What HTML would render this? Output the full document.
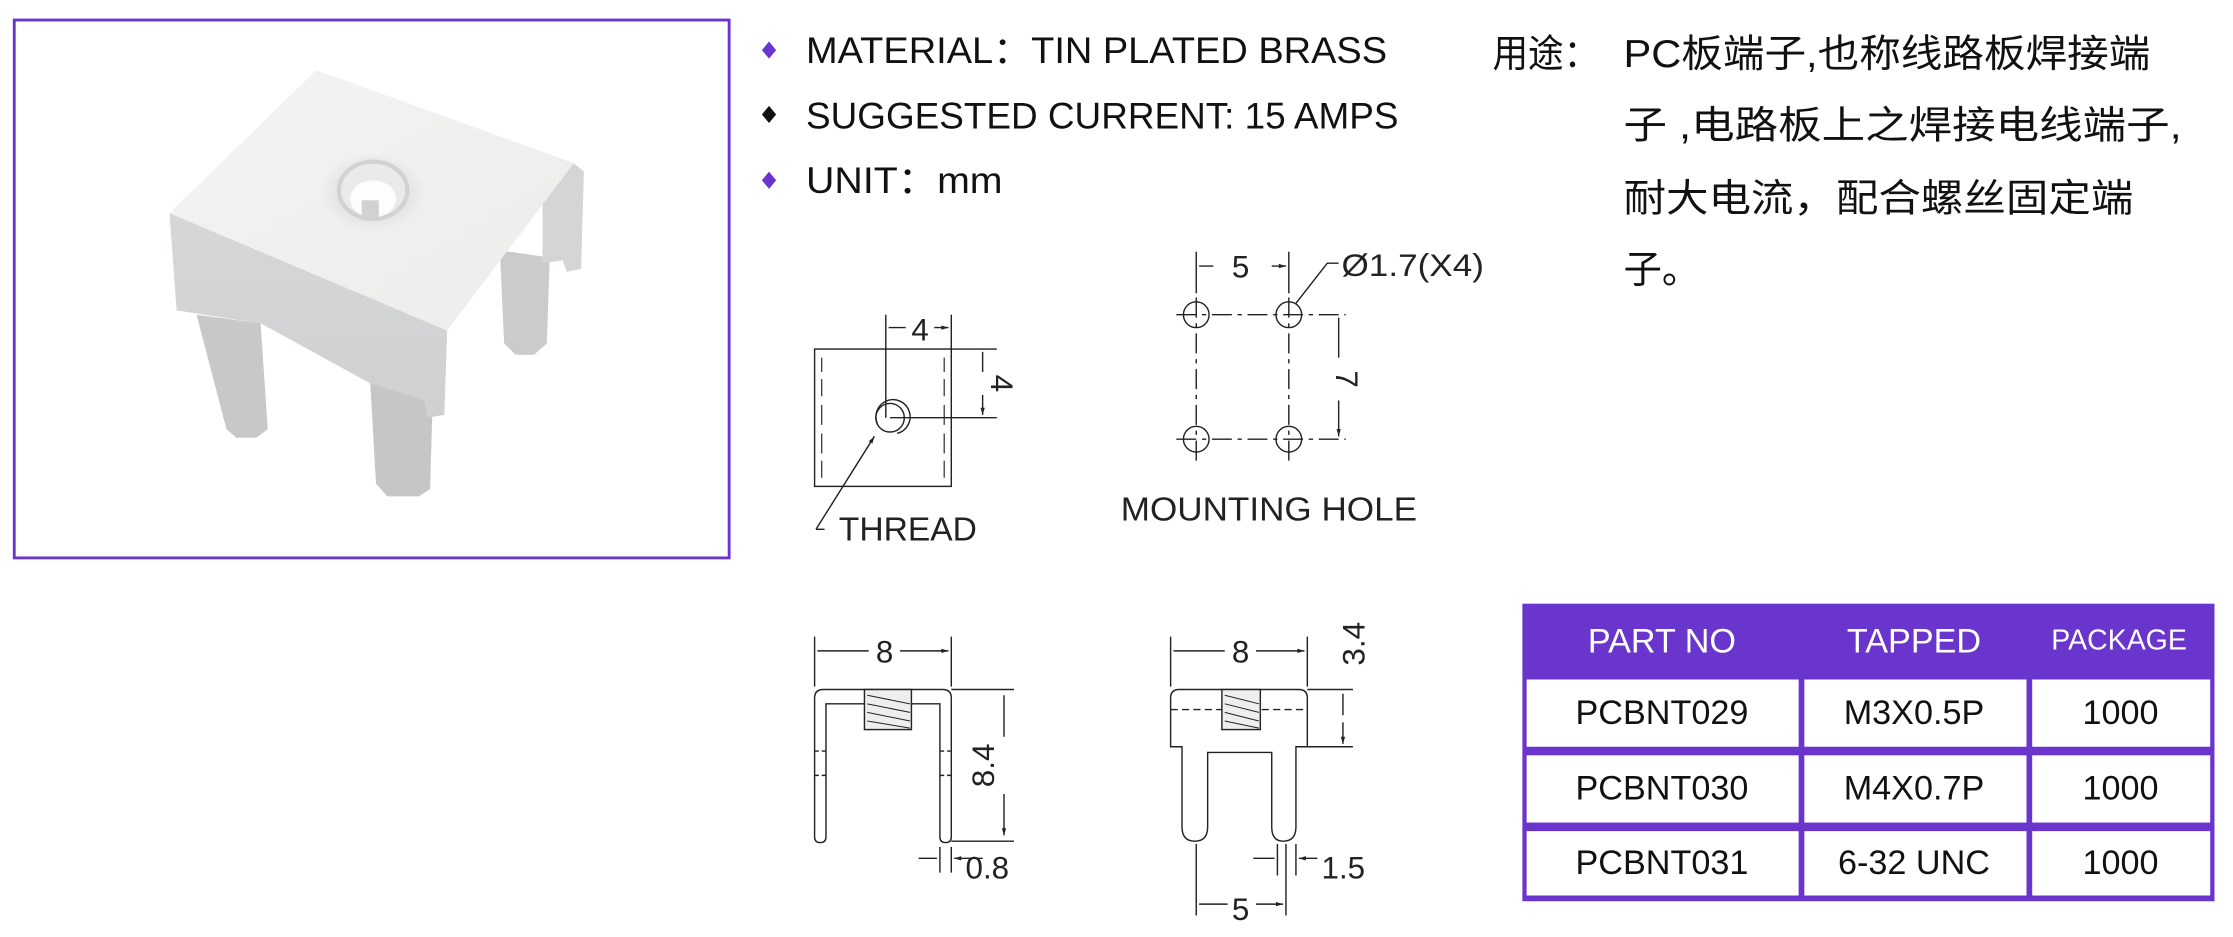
<!DOCTYPE html>
<html><head><meta charset="utf-8"><style>
html,body{margin:0;padding:0;background:#fff;}
svg{display:block;}
text{font-family:"Liberation Sans","Noto Sans CJK SC",sans-serif;}
</style></head><body>
<svg width="2233" height="937" viewBox="0 0 1568 655" preserveAspectRatio="none" xmlns="http://www.w3.org/2000/svg">
<defs>
<marker id="a" viewBox="0 0 10 10" refX="10" refY="5" markerWidth="7" markerHeight="5" orient="auto-start-reverse"><path d="M0,2 L10,5 L0,8 z" fill="#222"/></marker>
<linearGradient id="g1" x1="0" y1="0" x2="1" y2="1"><stop offset="0" stop-color="#f4f4f3"/><stop offset="1" stop-color="#ececea"/></linearGradient>
<linearGradient id="g2" x1="0" y1="0" x2="0" y2="1"><stop offset="0" stop-color="#d6d7d7"/><stop offset="1" stop-color="#cfd0d1"/></linearGradient>
<radialGradient id="h1"><stop offset="0.6" stop-color="#e2e2e0"/><stop offset="1" stop-color="#f0f0ef"/></radialGradient>
</defs>
<!-- photo frame -->
<rect x="10" y="14" width="502" height="376" fill="#fff" stroke="#6a35cc" stroke-width="2"/>
<!-- terminal photo approximation -->
<g>
<polygon points="351,175 386,180 384,240 375,248 362,248 354,240" fill="#c9cbcd"/>
<polygon points="403,114 410,120 408,188 398,190 395,182 381,184 381,140" fill="#d3d5d6"/>
<polygon points="138,220 183,226 188,300 180,306 166,306 159,300" fill="#c6c8ca"/>
<polygon points="260,268 304,274 302,342 294,347 272,347 264,338" fill="#c4c6c8"/>
<polygon points="119,149 314,231 312,290 300,292 298,280 260,268 183,226 124,217" fill="url(#g2)"/>
<polygon points="222,49 403,114 314,231 119,149" fill="url(#g1)"/>
<ellipse cx="262" cy="135" rx="37" ry="28" fill="url(#h1)"/>
<ellipse cx="262" cy="133" rx="24" ry="20" fill="#eaeaea" stroke="#d2d2d2" stroke-width="3"/>
<ellipse cx="262" cy="139" rx="16" ry="13" fill="#fdfdfd"/>
<rect x="254" y="140" width="12" height="14" fill="#cfd1d3"/>
</g>
<!-- bullets -->
<g font-size="26" fill="#111">
<path d="M540,29 l5,6 l-5,6 l-5,-6 z" fill="#6a35cc"/>
<text x="566" y="44" textLength="408" lengthAdjust="spacingAndGlyphs">MATERIAL：TIN PLATED BRASS</text>
<path d="M540,74 l5,6 l-5,6 l-5,-6 z" fill="#111"/>
<text x="566" y="90" textLength="416" lengthAdjust="spacingAndGlyphs">SUGGESTED CURRENT: 15 AMPS</text>
<path d="M540,120 l5,6 l-5,6 l-5,-6 z" fill="#6a35cc"/>
<text x="566" y="135" textLength="138" lengthAdjust="spacingAndGlyphs">UNIT：mm</text>
</g>
<!-- chinese -->
<g font-size="27" fill="#111">
<text x="1048" y="47" textLength="75" lengthAdjust="spacingAndGlyphs">用途：</text>
<text x="1140" y="47" textLength="370" lengthAdjust="spacingAndGlyphs">PC板端子,也称线路板焊接端</text>
<text x="1140" y="97" textLength="392" lengthAdjust="spacingAndGlyphs">子 ,电路板上之焊接电线端子,</text>
<text x="1140" y="148" textLength="358" lengthAdjust="spacingAndGlyphs">耐大电流，配合螺丝固定端</text>
<text x="1140" y="198">子。</text>
</g>
<!-- drawings -->
<g stroke="#222" stroke-width="1" fill="none">
<rect x="572" y="244" width="96" height="96"/>
<path d="M577,250 v10 M577,265 v12 M577,283 v14 M577,303 v14 M577,322 v12 M663,250 v10 M663,265 v12 M663,283 v14 M663,303 v14 M663,322 v12" stroke-width="0.8"/>
<path d="M622,220 V292 M668,220 V244"/>
<path d="M636,229 H624 M656,229 H666" marker-end="url(#a)"/>
<path d="M668,244 H700 M625,292 H700"/>
<path d="M690,260 V246 M690,276 V290" marker-end="url(#a)"/>
<circle cx="625" cy="292" r="10"/>
<path d="M616,296 A12,12 0 1,1 630,303"/>
<path d="M573,370 L614,305" marker-end="url(#a)"/>
<path d="M573,370 h6"/>
<circle cx="840" cy="220" r="9"/><circle cx="905" cy="220" r="9"/><circle cx="840" cy="307" r="9"/><circle cx="905" cy="307" r="9"/>
<path d="M826,220 H945 M826,307 H945" stroke-dasharray="14,4,3,4"/>
<path d="M840,208 V322 M905,208 V322" stroke-dasharray="14,4,3,4"/>
<path d="M840,176 V205 M905,176 V205"/>
<path d="M852,186 H842 M893,186 H903" marker-end="url(#a)"/>
<path d="M940,184 H932 L910,212" />
<path d="M940,250 V222 M940,280 V305" marker-end="url(#a)"/>
<path d="M572,585 V488 Q572,482 578,482 H662 Q668,482 668,488 V585 Q668,589 664,589 Q660,589 660,585 V492 H580 V585 Q580,589 576,589 Q572,589 572,585 Z"/>
<path d="M572,525 H580 M660,525 H668 M572,542 H580 M660,542 H668" stroke-dasharray="3,2"/>
<rect x="607" y="482" width="33" height="28" fill="#eee"/>
<path d="M609,486 l30,6 M609,492 l30,6 M609,498 l30,6 M609,504 l30,5" stroke-width="0.7"/>
<path d="M572,445 V480 M668,445 V480"/>
<path d="M610,455 H574 M632,455 H666" marker-end="url(#a)"/>
<path d="M668,482 H712 M668,588 H712"/>
<path d="M705,515 V486 M705,555 V584" marker-end="url(#a)"/>
<path d="M660,592 V610 M668,592 V610"/>
<path d="M645,600 H658 M690,600 H670" marker-end="url(#a)"/>
<path d="M822,488 Q822,482 828,482 H912 Q918,482 918,488 V522 H910 V578 Q910,588 901,588 Q893,588 893,578 V526 H848 V578 Q848,588 839,588 Q830,588 830,578 V522 H822 Z"/>
<path d="M822,496 H918" stroke-dasharray="5,3"/>
<rect x="858" y="482" width="27" height="28" fill="#eee"/>
<path d="M860,486 l24,6 M860,492 l24,6 M860,498 l24,6 M860,504 l24,5" stroke-width="0.7"/>
<path d="M822,445 V480 M918,445 V480"/>
<path d="M860,455 H824 M882,455 H916" marker-end="url(#a)"/>
<path d="M918,482 H950 M918,522 H950"/>
<path d="M943,500 V485 M943,505 V520" marker-end="url(#a)"/>
<path d="M840,590 V640 M903,590 V640 M897,590 V612 M910,590 V612"/>
<path d="M880,600 H895 M925,600 H912" marker-end="url(#a)"/>
<path d="M862,632 H842 M882,632 H901" marker-end="url(#a)"/>
</g>
<g fill="#222" font-size="22">
<text x="640" y="238">4</text>
<text transform="translate(696,268) rotate(90)" text-anchor="middle">4</text>
<text x="589" y="378" font-size="23" textLength="97" lengthAdjust="spacingAndGlyphs">THREAD</text>
<text x="865" y="194">5</text>
<text x="942" y="193" textLength="100" lengthAdjust="spacingAndGlyphs">Ø1.7(X4)</text>
<text transform="translate(938,265) rotate(90)" text-anchor="middle">7</text>
<text x="787" y="364" font-size="23" textLength="208" lengthAdjust="spacingAndGlyphs">MOUNTING  HOLE</text>
<text x="615" y="463">8</text>
<text transform="translate(698,535) rotate(-90)" text-anchor="middle">8.4</text>
<text x="678" y="614">0.8</text>
<text x="865" y="463">8</text>
<text transform="translate(958,450) rotate(-90)" text-anchor="middle">3.4</text>
<text x="928" y="614">1.5</text>
<text x="865" y="643">5</text>
</g>
<g>
<rect x="1069" y="422" width="486" height="208" fill="#6a35cc"/>
<rect x="1072" y="475" width="191" height="47" fill="#fff"/>
<rect x="1267" y="475" width="156" height="47" fill="#fff"/>
<rect x="1427" y="475" width="125" height="47" fill="#fff"/>
<rect x="1072" y="528" width="191" height="47" fill="#fff"/>
<rect x="1267" y="528" width="156" height="47" fill="#fff"/>
<rect x="1427" y="528" width="125" height="47" fill="#fff"/>
<rect x="1072" y="581" width="191" height="45" fill="#fff"/>
<rect x="1267" y="581" width="156" height="45" fill="#fff"/>
<rect x="1427" y="581" width="125" height="45" fill="#fff"/>
<g fill="#fff" font-size="24" text-anchor="middle">
<text x="1167" y="456">PART NO</text>
<text x="1344" y="456">TAPPED</text>
<text x="1488" y="454" font-size="20">PACKAGE</text>
</g>
<g fill="#111" font-size="24" text-anchor="middle">
<text x="1167" y="506">PCBNT029</text><text x="1344" y="506">M3X0.5P</text><text x="1489" y="506">1000</text>
<text x="1167" y="559">PCBNT030</text><text x="1344" y="559">M4X0.7P</text><text x="1489" y="559">1000</text>
<text x="1167" y="611">PCBNT031</text><text x="1344" y="611">6-32 UNC</text><text x="1489" y="611">1000</text>
</g>
</g>
</svg>
</body></html>
